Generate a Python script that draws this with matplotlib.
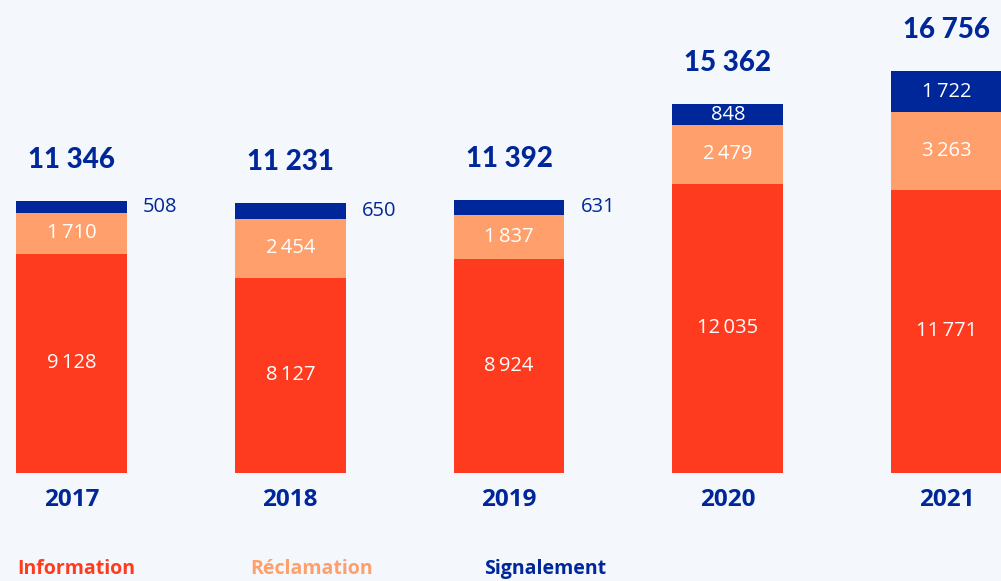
import matplotlib.pyplot as plt
import numpy as np

# ---------------- DATA ----------------
years = ["2017", "2018", "2019", "2020", "2021"]
information = [9128, 8127, 8924, 12035, 11771]
reclamation = [1710, 2454, 1837, 2479, 3263]
signalement = [508, 650, 631, 848, 1722]
totals = ["11 346", "11 231", "11 392", "15 362", "16 756"]

RED = "#FF3B1F"
ORANGE = "#FFA06C"
NAVY = "#00279A"
BG = "#F4F7FC"


def fmt(v):
    return f"{v:,}".replace(",", "\u2009")


# ---------------- FIGURE ----------------
fig = plt.figure(figsize=(10.01, 5.81), dpi=100, facecolor=BG)
ax = fig.add_axes([0, 0, 1, 1])
ax.set_facecolor(BG)
ax.set_xlim(-0.327, 4.249)
ax.set_ylim(-4528, 19721)
ax.axis("off")

x = np.arange(len(years))
w = 0.507
info = np.array(information)
recl = np.array(reclamation)
sig = np.array(signalement)

ax.bar(x, info, w, color=RED)
ax.bar(x, recl, w, bottom=info, color=ORANGE)
ax.bar(x, sig, w, bottom=info + recl, color=NAVY)

font = "Open Sans"
lab = 14.5
for i in range(len(years)):
    ax.text(x[i], info[i] / 2, fmt(info[i]), ha="center", va="center",
            color="white", fontsize=lab, family=font)
    ax.text(x[i], info[i] + recl[i] / 2, fmt(recl[i]), ha="center", va="center",
            color="white", fontsize=lab, family=font)
    top = info[i] + recl[i] + sig[i]
    if sig[i] < 800:
        ax.text(x[i] + w / 2 + 0.073, info[i] + recl[i] + sig[i] / 2, fmt(sig[i]),
                ha="left", va="center", color=NAVY, fontsize=lab, family=font)
    else:
        ax.text(x[i], info[i] + recl[i] + sig[i] / 2, fmt(sig[i]), ha="center",
                va="center", color="white", fontsize=lab, family=font)
    # total above the bar
    ax.annotate(totals[i], (x[i], top), xytext=(0, 41), textcoords="offset pixels",
                ha="center", va="center", color=NAVY, fontsize=20,
                fontweight="black", family="Lato")
    # year label
    ax.annotate(years[i], (x[i], 0), xytext=(0, -27), textcoords="offset pixels",
                ha="center", va="center", color=NAVY, fontsize=17.5,
                fontweight="bold", family=font)

# ---------------- LEGEND ----------------
leg_y = 1 - 569 / 581
fig.text(17 / 1001, leg_y, "Information", color=RED, fontsize=14,
         fontweight="bold", family=font, va="center")
fig.text(250 / 1001, leg_y, "Réclamation", color=ORANGE, fontsize=14,
         fontweight="bold", family=font, va="center")
fig.text(484 / 1001, leg_y, "Signalement", color=NAVY, fontsize=14,
         fontweight="bold", family=font, va="center")

fig.savefig("out.png", dpi=100, facecolor=BG)
